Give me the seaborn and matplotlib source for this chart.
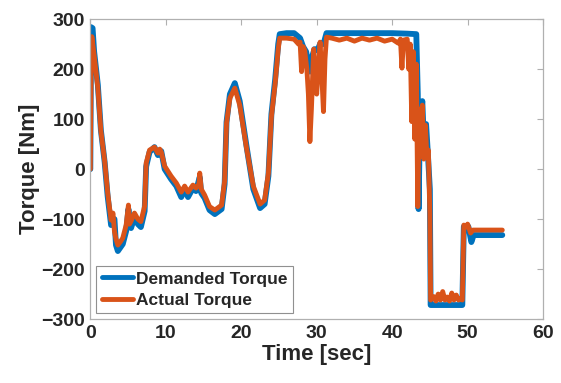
import matplotlib
matplotlib.use("Agg")
import matplotlib.pyplot as plt
import seaborn as sns

# Demanded torque
t_dem = [0, 0.1, 0.3, 0.5, 1.0, 1.4, 1.9, 2.3, 2.75, 3.2, 3.4, 3.65, 4.3, 4.75, 5.05,
         5.4, 5.85, 6.3, 6.7, 7.2, 7.4, 7.85, 8.5, 8.95, 9.4, 9.85, 10.7, 11.4, 12.05,
         12.5, 12.95, 13.6, 14.0, 14.5, 14.7, 15.15, 15.8, 16.5, 17.4, 17.8, 18.05, 18.5,
         19.15, 19.8, 20.7, 21.6, 22.5, 23.1, 23.6, 24.0, 24.5, 24.9, 25.1, 26.0, 27.0,
         27.8, 28.2, 28.6, 29.1, 29.4, 29.7, 30.1, 30.5, 30.9, 31.3, 35.0, 40.0, 42.0,
         43.2, 43.4, 43.5, 43.7, 44.0, 44.2, 44.5, 44.7, 45.0, 45.1, 49.3, 49.5, 49.8,
         50.1, 50.5, 50.8, 54.6]
torque_dem = [0, 284, 282, 236, 168, 78, 14, -55, -112, -100, -152, -164, -150, -124, -80,
              -118, -96, -110, -116, -84, 5, 34, 44, 28, 36, 0, -20, -34, -56,
              -40, -56, -38, -44, -16, -48, -58, -82, -90, -80, -30, 94, 150,
              172, 136, 46, -40, -78, -70, -14, 110, 180, 250, 270, 272, 272,
              262, 245, 235, 195, 225, 240, 238, 252, 250, 272, 272, 272, 271,
              270, 150, -80, 100, 136, 60, 90, 40, -40, -272, -272, -115, -118,
              -115, -146, -132, -132]

# Actual torque
t_act = [0, 0.1, 0.2, 0.5, 1.0, 1.4, 1.9, 2.3, 2.75, 3.0, 3.2, 3.4, 3.65, 4.0, 4.3,
         4.75, 5.05, 5.2, 5.4, 5.85, 6.3, 6.7, 7.2, 7.4, 7.85, 8.5, 8.95, 9.2, 9.4,
         9.85, 10.7, 11.4, 12.05, 12.5, 12.95, 13.6, 14.0, 14.4, 14.5, 14.7, 15.15,
         15.8, 16.5, 17.4, 17.8, 18.05, 18.5, 19.15, 19.8, 20.7, 21.6, 22.5, 23.1,
         23.6, 24.0, 24.5, 24.9, 25.1, 26.0, 27.0, 27.6, 27.8, 28.0, 28.2, 28.4, 28.7,
         28.9, 29.1, 29.3, 29.6, 30.0, 30.2, 30.45, 30.7, 30.9, 31.1, 31.3, 32, 33, 34,
         35, 36, 37, 38, 39, 40, 40.8, 41.1, 41.3, 41.5, 42.0, 42.2, 42.4, 42.6, 42.8,
         43.0, 43.2, 43.4, 43.6, 43.8, 44.0, 44.2, 44.4, 44.6, 44.8, 45.0, 45.1, 45.5,
         45.8, 46.1, 46.4, 46.7, 47.0, 47.3, 47.6, 47.9, 48.2, 48.5, 48.8, 49.1, 49.3,
         49.5, 49.8, 50.0, 50.4, 50.7, 54.6]
torque_act = [0, 200, 265, 228, 162, 76, 16, -48, -102, -88, -125, -140, -152, -145, -138,
              -112, -72, -110, -104, -88, -100, -105, -74, 12, 38, 44, 32, 40, 34,
              6, -14, -28, -46, -34, -46, -32, -38, -30, -8, -40, -52,
              -75, -82, -72, -24, 92, 142, 162, 128, 42, -34, -70, -62,
              -8, 105, 172, 240, 262, 262, 260, 250, 254, 195, 245, 238, 200,
              150, 55, 120, 240, 150, 200, 254, 180, 115, 220, 264, 262, 258, 262,
              256, 262, 258, 262, 256, 260, 252, 260, 202, 258, 260, 200, 250, 95, 235,
              60, 210, -75, 120, 30, 128, 20, 88, 28, 38, -90, -262, -255,
              -264, -250, -262, -245, -262, -256, -264, -248, -262, -252, -262, -258, -262,
              -112, -116, -110, -128, -122, -122]

sns.set_style("white")
plt.rcParams['font.family'] = ['Liberation Sans', 'DejaVu Sans']
plt.rcParams['font.weight'] = 'bold'

fig = plt.figure(figsize=(5.61, 3.83), dpi=100)
ax = fig.add_axes([0.161, 0.167, 0.807, 0.783])

sns.lineplot(x=t_dem, y=torque_dem, ax=ax, color='#0072BD', lw=4.2,
             estimator=None, sort=False, label='Demanded Torque')
sns.lineplot(x=t_act, y=torque_act, ax=ax, color='#D95319', lw=3.5,
             estimator=None, sort=False, label='Actual Torque')

ax.set_xlim(0, 60)
ax.set_ylim(-300, 300)
ax.set_xticks([0, 10, 20, 30, 40, 50, 60])
ax.set_yticks([-300, -200, -100, 0, 100, 200, 300])
ax.set_xlabel('Time [sec]', fontsize=16, fontweight='bold', color='#262626', labelpad=2)
ax.set_ylabel('Torque [Nm]', fontsize=16, fontweight='bold', color='#262626', labelpad=1)
ax.tick_params(direction='in', length=4, width=0.8, top=True, right=True,
               labelsize=14, colors='#b0b0b0', labelcolor='#262626', pad=4)
for lab in ax.get_xticklabels() + ax.get_yticklabels():
    lab.set_fontweight('bold')
for s in ax.spines.values():
    s.set_color('#b0b0b0')
    s.set_linewidth(0.9)

leg = ax.legend(loc='lower left', fontsize=12.5, frameon=True, fancybox=False,
                edgecolor='#909090', framealpha=1, handlelength=1.8,
                borderaxespad=0.35, borderpad=0.3, labelspacing=0.35, handletextpad=0.2)
leg.get_frame().set_linewidth(0.8)
for txt in leg.get_texts():
    txt.set_fontweight('bold')
for line in leg.get_lines():
    line.set_linewidth(3.5)

fig.savefig('out.png', dpi=100)
